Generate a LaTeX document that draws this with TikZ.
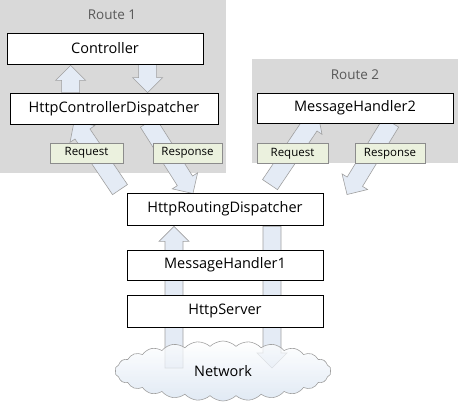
\documentclass[tikz,border=0pt]{standalone}
\usepackage{fontspec}
\setmainfont{Open Sans}
\usepackage{tikz}
\usepackage{xcolor}
\usetikzlibrary{
    calc,
    shapes.symbols
}
\definecolor{routegray}{HTML}{D9D9D9}
\definecolor{routetext}{HTML}{595959}
\definecolor{tagfill}{HTML}{EBF1DE}
\definecolor{tagline}{HTML}{8C8C8C}
\definecolor{flowfill}{HTML}{E4EBF5}
\definecolor{flowline}{HTML}{A0A0A0}
\definecolor{cloudfill}{HTML}{D6E2F0}
\pgfdeclarelayer{routelayer}
\pgfdeclarelayer{flowlayer}
\pgfsetlayers{routelayer,flowlayer,main}
\tikzset{
    stage/.style={draw, fill=white, line width=0.8pt, minimum width=196pt, minimum height=31pt, inner sep=0pt, font=\fontsize{14.5}{16}\selectfont},
    tag/.style={draw=tagline, fill=tagfill, line width=0.6pt, minimum height=20pt, inner sep=0pt, font=\fontsize{11.5}{13}\selectfont},
    flow/.style={draw=flowline, fill=flowfill, line width=0.6pt, line join=miter}
}
% wide block arrow from #1 to #2
\newcommand{\flowarrow}[2]{%
    \draw[flow] let \p1=($(#2)-(#1)$), \n1={veclen(\x1,\y1)}, \n2={atan2(\y1,\x1)} in
        [shift={(#1)}, rotate=\n2]
        (0pt,-9pt) -- (\n1-15pt,-9pt) -- (\n1-15pt,-15pt) -- (\n1,0pt)
        -- (\n1-15pt,15pt) -- (\n1-15pt,9pt) -- (0pt,9pt) -- cycle;
}
\begin{document}
\begin{tikzpicture}[x=1pt, y=-1pt]
            \useasboundingbox (0,0) rectangle (458,405);
            
            \begin{pgfonlayer}{routelayer}
            \fill[routegray] (0,0) rectangle (226,173);
            \fill[routegray] (252,59) rectangle (458,163);
            \end{pgfonlayer}
            \node[text=routetext, font=\fontsize{13.5}{15}\selectfont] (route1) at (112,15) {Route 1};
            \node[text=routetext, font=\fontsize{13.5}{15}\selectfont] (route2) at (355,75) {Route 2};
            
            \node[stage] (ctrl) at (105,48.5) {Controller};
            \node[stage, minimum width=208pt] (hcd) at (114,108.5) {HttpControllerDispatcher};
            \node[stage, minimum height=30pt] (mh2) at (355,108) {MessageHandler2};
            
            \node[stage, minimum height=32pt] (hrd) at (225,209) {HttpRoutingDispatcher};
            \node[stage, minimum height=30pt] (mh1) at (225,265) {MessageHandler1};
            \node[stage, minimum height=32pt] (srv) at (225,311) {HttpServer};
            \coordinate (net) at (223,371);
            
            \begin{pgfonlayer}{flowlayer}
            \flowarrow{[xshift=61pt]hcd.north west}{[xshift=64pt,yshift=-1pt]ctrl.south west}
            \flowarrow{[xshift=141pt]ctrl.south west}{[xshift=138pt]hcd.north west}
            
            \flowarrow{[xshift=-105pt,yshift=3pt]hrd.north}{[xshift=-40pt,yshift=3pt]hcd.south}
            \flowarrow{[xshift=34pt,yshift=2pt]hcd.south}{[xshift=-32pt,yshift=-1pt]hrd.north}
            
            \flowarrow{[xshift=45pt,yshift=8pt]hrd.north}{[xshift=-37pt,yshift=10pt]mh2.south}
            \flowarrow{[xshift=36pt,yshift=1pt]mh2.south}{[xshift=122pt,yshift=-2pt]hrd.north}
            
            \flowarrow{[xshift=-49pt,yshift=3pt]net}{[xshift=-51pt,yshift=-1pt]hrd.south}
            \flowarrow{[xshift=47pt,yshift=-1pt]hrd.south}{[xshift=49pt,yshift=3pt]net}
            \end{pgfonlayer}
            
            \node[tag, minimum width=73pt] (req1) at (86.5,153) {Request};
            \node[tag, minimum width=69pt] (resp1) at (187.5,153) {Response};
            \node[tag, minimum width=71pt] (req2) at (292.5,153.5) {Request};
            \node[tag, minimum width=70pt] (resp2) at (390,153.5) {Response};
            
            \node[cloud, cloud puffs=26, cloud puff arc=90, aspect=3.6, draw=flowline, line width=0.6pt,
                  top color=white, bottom color=cloudfill, fill opacity=0.75, text opacity=1,
                  minimum width=216pt, minimum height=60pt, inner sep=0pt,
                  font=\fontsize{14.5}{16}\selectfont] (network) at (net) {Network};
            \end{tikzpicture}
\end{document}
